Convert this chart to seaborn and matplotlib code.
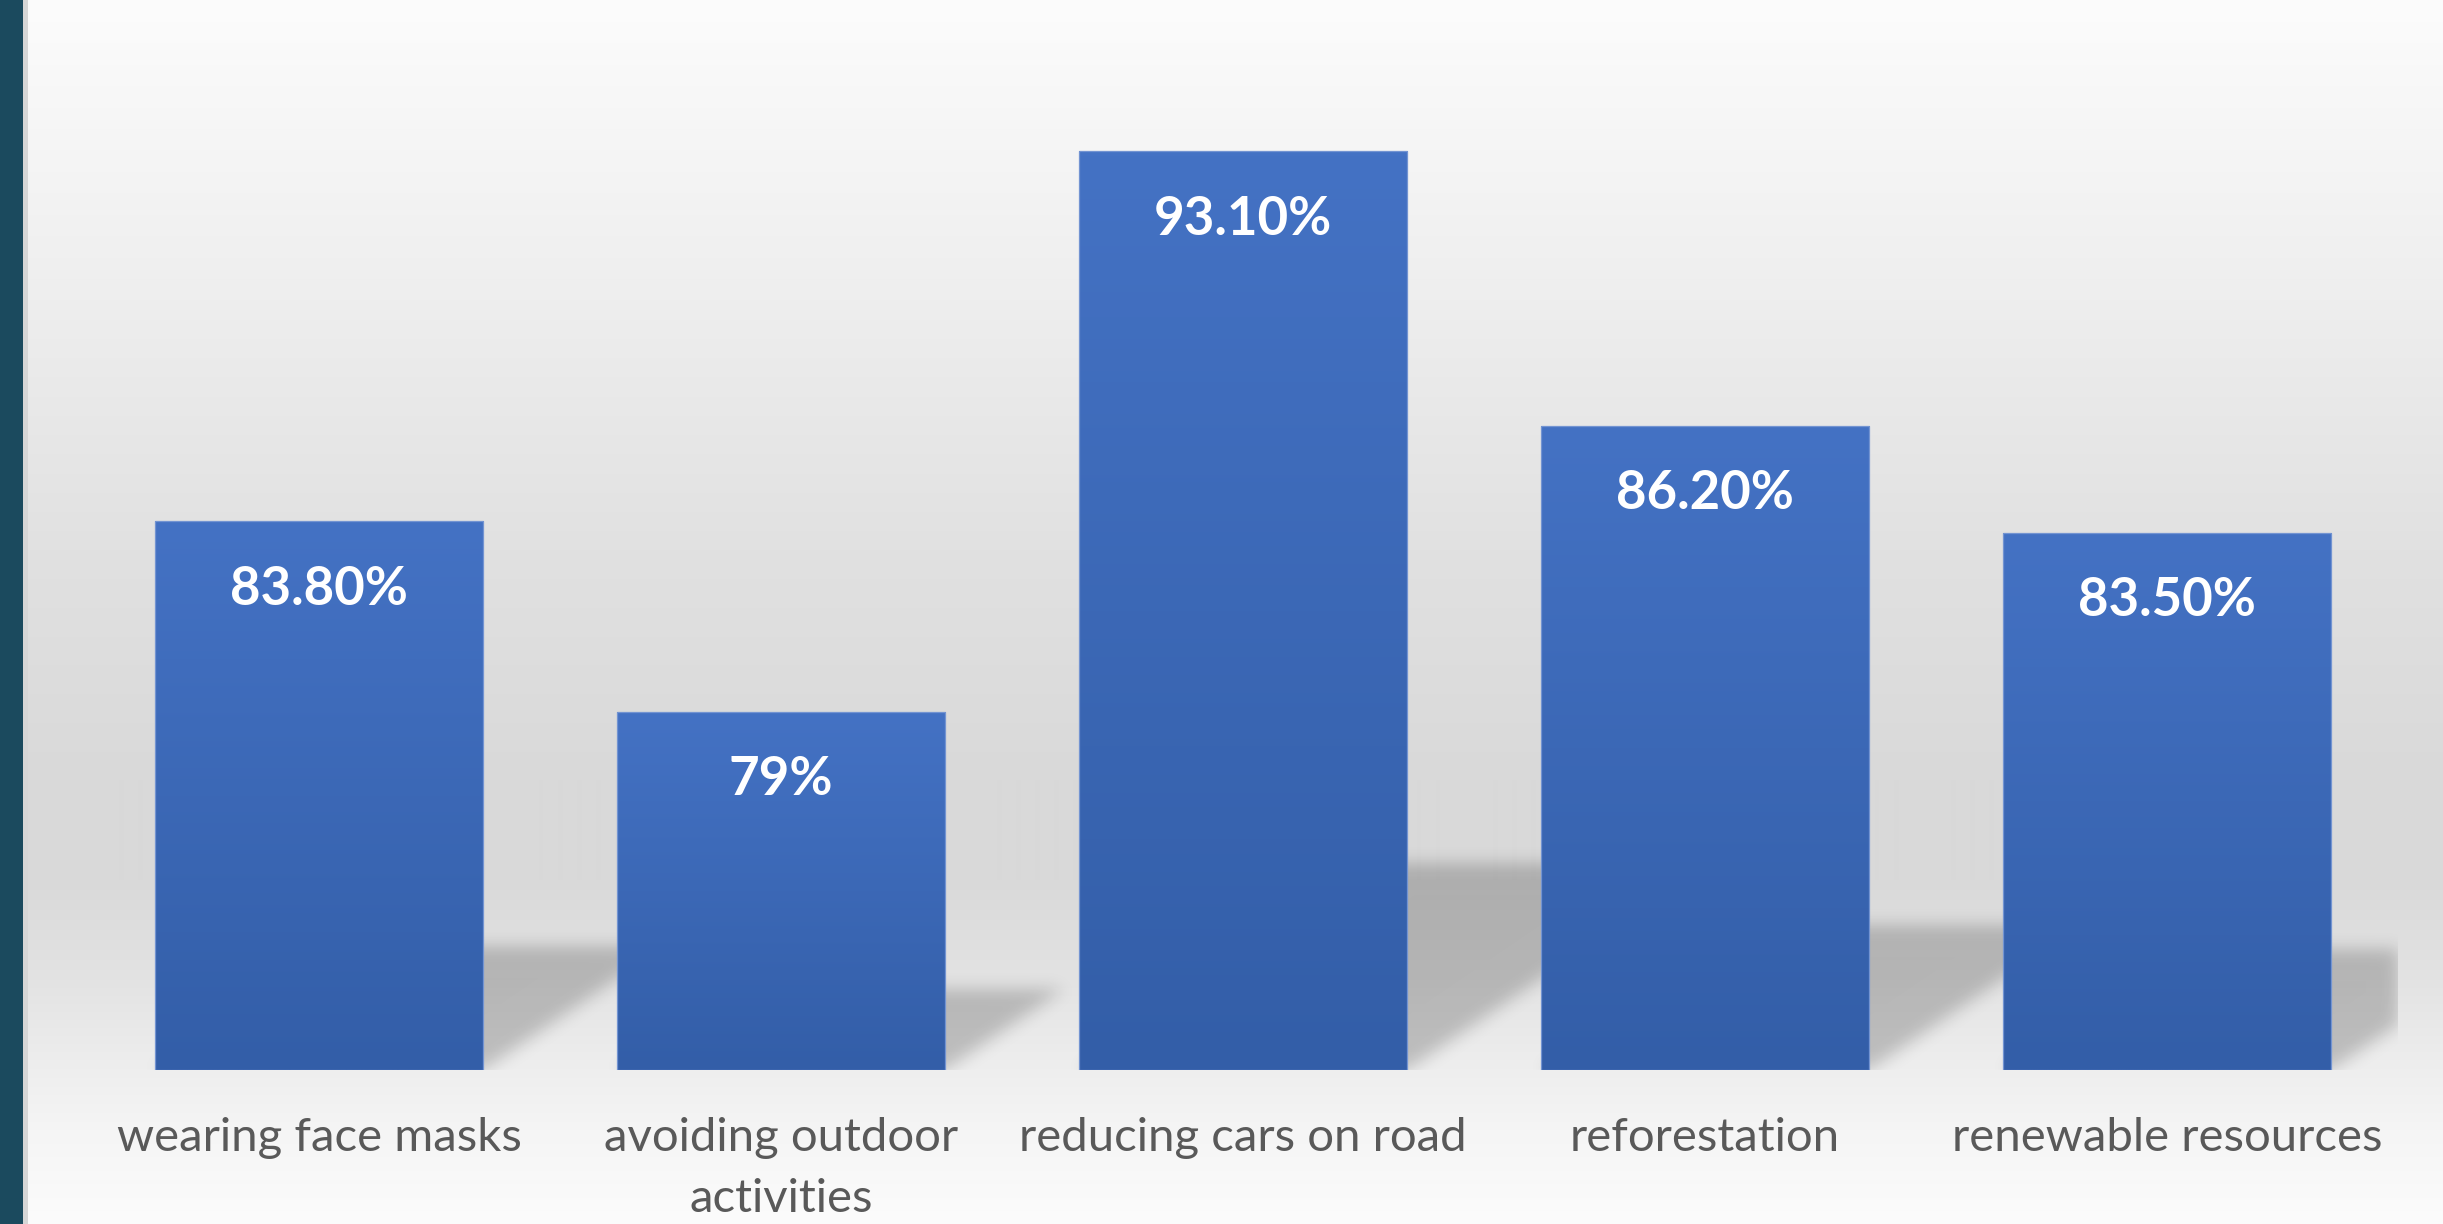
import numpy as np
import pandas as pd
import matplotlib
matplotlib.use("Agg")
import matplotlib.pyplot as plt
import seaborn as sns
from matplotlib.colors import LinearSegmentedColormap
from matplotlib.patches import Rectangle

# ---- data ----
categories = ["wearing face masks", "avoiding outdoor\nactivities",
              "reducing cars on road", "reforestation", "renewable resources"]
values = [83.8, 79.0, 93.1, 86.2, 83.5]
value_labels = ["83.80%", "79%", "93.10%", "86.20%", "83.50%"]
y_min, y_max = 70, 100

# ---- figure setup ----
W, H, DPI = 2443, 1224, 100
sns.set_theme(style="white")
plt.rcParams["font.family"] = ["Lato", "DejaVu Sans"]

fig = plt.figure(figsize=(W / DPI, H / DPI), dpi=DPI)

# chart-area background: soft vertical grey gradient and a dark side band
bg = fig.add_axes([0, 0, 1, 1], zorder=-10)
rows = np.arange(H)
stop_rows = [0, 300, 550, 780, 880, 980, 1060, 1130, 1224]
stop_vals = [252, 238, 225, 217, 217, 227, 237, 245, 252]
shade = np.interp(rows, stop_rows, stop_vals) / 255.0
grad = np.repeat(shade[:, None], 2, axis=1)
bg.imshow(np.dstack([grad] * 3), aspect="auto", extent=(0, W, H, 0),
          interpolation="bilinear")
bg.add_patch(Rectangle((0, 0), 23, H, color="#1b4a5e", lw=0))
bg.add_patch(Rectangle((23, 0), 5, H, color="#d6d6d6", lw=0))
bg.set_xlim(0, W)
bg.set_ylim(H, 0)
bg.axis("off")

# plot area
px_per_unit = 39.78
ax_bottom_px = 1070
ax_height_px = (y_max - y_min) * px_per_unit
ax = fig.add_axes([88 / W, (H - ax_bottom_px) / H, 2310 / W, ax_height_px / H])
ax.patch.set_alpha(0)

df = pd.DataFrame({"measure": categories, "share": values})
sns.barplot(data=df, x="measure", y="share", color="#3c68b6", width=0.71,
            ax=ax, zorder=3, linewidth=0, saturation=1)
bars = list(ax.patches)

ax.set_xlim(-0.5, 4.5)
ax.set_ylim(y_min, y_max)

# vertical gradient inside each bar
bar_cmap = LinearSegmentedColormap.from_list("barfill", ["#335ea8", "#4472c4"])
ramp = np.linspace(0, 1, 256)[:, None]
for p, v in zip(bars, values):
    x0, w = p.get_x(), p.get_width()
    im = ax.imshow(ramp, extent=(x0, x0 + w, y_min, v), origin="lower",
                   aspect="auto", cmap=bar_cmap, zorder=3.5,
                   interpolation="bilinear")
    im.set_clip_path(p)
    ax.add_patch(Rectangle((x0, y_min), w, v - y_min, fill=False,
                           edgecolor="#7394d2", lw=0.9, zorder=3.6))

ax.set_xlim(-0.5, 4.5)
ax.set_ylim(y_min, y_max)

# perspective drop shadows behind the bars
bb = ax.bbox
wpx, hpx = int(round(bb.width)), int(round(bb.height))
X, Y = np.meshgrid(np.arange(wpx) + 0.5, np.arange(hpx) + 0.5)
mask = np.zeros((hpx, wpx))
k, s = 0.225, 0.33
for p, v in zip(bars, values):
    xl, yb = ax.transData.transform((p.get_x(), y_min)) - (bb.x0, bb.y0)
    xr = ax.transData.transform((p.get_x() + p.get_width(), y_min))[0] - bb.x0
    ytop = ax.transData.transform((0, v))[1] - bb.y0
    hb = ytop - yb
    t = (Y - yb) / k
    inside = (Y >= yb) & (Y <= yb + k * hb) & (X >= xl + s * t) & (X <= xr + s * t)
    mask[inside] = 1.0

sigma = 8.0
kx = np.arange(-int(4 * sigma), int(4 * sigma) + 1)
kern = np.exp(-kx ** 2 / (2 * sigma ** 2))
kern /= kern.sum()
mask = np.apply_along_axis(lambda r: np.convolve(r, kern, mode="same"), 1, mask)
mask = np.apply_along_axis(lambda c: np.convolve(c, kern, mode="same"), 0, mask)
shadow = np.zeros((hpx, wpx, 4))
shadow[..., 3] = 0.2 * mask
ax.imshow(shadow, extent=(-0.5, 4.5, y_min, y_max), origin="lower",
          aspect="auto", zorder=1, interpolation="nearest")
ax.set_xlim(-0.5, 4.5)
ax.set_ylim(y_min, y_max)

# value labels inside the bars
for i, (v, lab) in enumerate(zip(values, value_labels)):
    ax.text(i, v - 68 / px_per_unit, lab, ha="center", va="center",
            color="white", fontsize=38, fontweight="bold", zorder=5)

# axes styling
for sp in ax.spines.values():
    sp.set_visible(False)
ax.set_yticks([])
ax.set_xlabel("")
ax.set_ylabel("")
ax.tick_params(axis="x", length=0, pad=34, labelsize=34, labelcolor="#595959")
for lab in ax.get_xticklabels():
    lab.set_linespacing(1.55)

fig.savefig("out.png", dpi=DPI)
